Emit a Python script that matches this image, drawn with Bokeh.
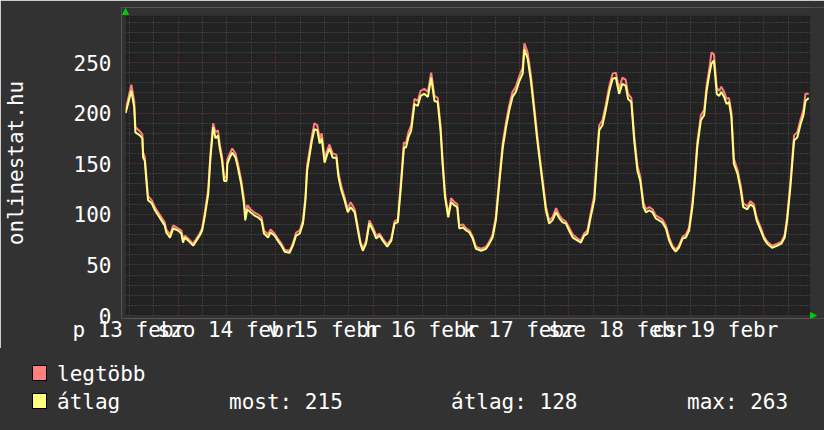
from bokeh.plotting import figure
from bokeh.layouts import column
from bokeh.models import (FixedTicker, Arrow, NormalHead, Range1d, AllLabels,
                          BoxAnnotation, Div, Grid)
from bokeh.embed import file_html
from bokeh.resources import INLINE

# ---- data (hours since 13 Feb 00:00) ----
hours = [11.1, 12.5, 13.2, 13.5, 14.6, 15.2, 15.4, 15.8, 16.2, 16.6, 17.5, 18.3, 19.1, 19.9, 20.7, 21.1, 22.0, 22.8,
         24.0, 24.8, 25.2, 25.6, 26.5, 27.7, 28.5, 29.3, 29.9, 30.5, 31.4, 31.9, 32.6, 33.2, 33.8, 34.2, 34.8, 35.3, 35.9, 36.1,
         36.7, 37.3, 38.1, 38.7, 39.5, 40.2, 40.5, 41.0, 41.8, 42.7, 43.6, 44.5, 45.1, 46.1, 46.7, 47.7,
         48.5, 49.4, 50.2, 51.4, 52.2, 53.0, 53.9, 54.7, 55.3, 55.7, 56.3, 56.9, 57.5, 58.2, 58.8, 59.3, 60.0, 60.7, 61.2, 62.0,
         62.9, 63.4, 64.1, 64.9, 65.7, 66.4, 67.4, 68.2, 68.8, 69.4, 70.2, 71.0, 71.9,
         72.7, 73.5, 74.3, 75.4, 76.4, 77.2, 78.0, 78.7, 79.5, 80.0, 80.6, 81.3, 82.1, 82.9, 83.6, 84.5, 85.4, 86.2, 87.0, 87.8,
         88.5, 89.0, 89.6, 90.4, 91.1, 91.9, 92.6, 93.1, 94.0, 94.8, 95.6,
         96.4, 97.2, 98.5, 99.7, 100.5, 101.3, 102.1, 103.0, 103.8, 104.6, 105.4, 106.2, 107.0, 107.9, 108.7, 109.1, 109.9, 110.7,
         111.5, 112.2, 112.8, 113.6, 114.4, 115.2, 116.0, 116.9, 117.7, 118.5, 119.3,
         120.1, 121.0, 122.2, 123.0, 123.8, 124.6, 125.4, 126.3, 126.9, 127.5, 128.3, 129.1, 130.0, 130.8, 131.6, 132.4, 133.2,
         134.0, 134.6, 135.4, 136.1, 136.9, 137.6, 138.4, 139.0, 139.8, 140.6, 141.4, 142.2, 143.0, 143.9,
         144.7, 145.5, 146.3, 147.1, 148.0, 148.8, 149.6, 150.4, 151.0, 151.6, 152.5, 153.3, 153.9, 154.6, 155.1, 155.7, 156.4,
         157.0, 157.5, 158.2, 158.8, 159.4, 160.0, 160.6, 161.5, 162.3, 162.9, 163.9, 164.7, 165.5, 166.2, 167.2, 168.0, 168.8,
         170.0, 171.3, 172.3, 173.1, 173.7, 174.5, 175.4, 176.2, 177.0, 177.7, 178.2, 179.0]

atlag = [200, 222, 206, 181, 178, 175, 156, 153, 133, 114, 111, 104, 99, 94, 89, 82, 77, 86,
         84, 81, 72, 77, 74, 69, 74, 79, 84, 97, 120, 153, 186, 175, 178, 166, 153, 133, 133, 150,
         156, 161, 156, 146, 130, 110, 94, 105, 102, 99, 97, 94, 81, 77, 82, 79,
         74, 69, 63, 62, 69, 79, 81, 91, 114, 143, 158, 173, 184, 183, 170, 175, 151, 160, 165, 156,
         156, 137, 124, 114, 102, 107, 102, 84, 71, 64, 71, 91, 84,
         76, 79, 74, 68, 74, 91, 92, 124, 166, 166, 176, 183, 209, 207, 217, 219, 216, 235, 212, 211,
         183, 150, 117, 97, 112, 109, 107, 86, 87, 84, 82,
         76, 66, 64, 66, 71, 77, 94, 133, 166, 186, 203, 216, 221, 232, 239, 263, 254, 232,
         203, 176, 156, 130, 104, 91, 94, 102, 96, 92, 91,
         84, 77, 74, 72, 79, 81, 97, 114, 150, 183, 188, 203, 222, 234, 235, 219, 229,
         227, 214, 211, 173, 143, 133, 107, 102, 104, 102, 96, 94, 92, 86,
         74, 67, 63, 67, 76, 77, 84, 107, 133, 166, 193, 198, 222, 239, 249, 252, 219,
         217, 221, 216, 209, 211, 196, 150, 140, 124, 107, 105, 110, 107, 94, 84, 76, 71,
         67, 69, 71, 77, 94, 127, 173, 176, 189, 198, 212, 215]

legtobb = [203, 228, 212, 186, 182, 179, 161, 157, 137, 118, 114, 107, 102, 97, 92, 85, 80, 89,
           86, 84, 75, 79, 76, 71, 76, 81, 86, 100, 125, 158, 190, 181, 183, 170, 157, 137, 136, 154,
           160, 165, 160, 150, 134, 115, 98, 109, 105, 102, 100, 97, 84, 80, 85, 81,
           76, 71, 65, 64, 71, 82, 84, 94, 118, 148, 163, 178, 190, 188, 175, 180, 156, 164, 169, 160,
           159, 141, 128, 117, 105, 112, 105, 87, 73, 66, 74, 94, 87,
           79, 81, 76, 70, 76, 93, 95, 129, 171, 170, 181, 188, 214, 212, 222, 224, 221, 240, 217, 215,
           188, 155, 121, 100, 116, 112, 110, 89, 90, 86, 84,
           78, 68, 66, 68, 73, 80, 98, 138, 171, 191, 208, 221, 226, 237, 245, 269, 260, 238,
           208, 181, 160, 134, 108, 94, 97, 106, 99, 95, 93,
           87, 80, 76, 74, 81, 84, 101, 119, 155, 188, 193, 208, 227, 239, 240, 224, 235,
           233, 219, 215, 178, 148, 137, 111, 105, 107, 105, 99, 97, 95, 89,
           77, 69, 65, 69, 78, 80, 87, 111, 138, 171, 198, 203, 227, 245, 260, 258, 225,
           222, 226, 221, 214, 215, 201, 155, 144, 128, 111, 108, 113, 110, 97, 87, 78, 73,
           69, 71, 73, 80, 98, 132, 178, 181, 194, 203, 219, 219]

assert len(hours) == len(atlag) == len(legtobb)

day_labels = ["p 13 febr", "szo 14 febr", "v 15 febr", "h 16 febr", "k 17 febr", "sze 18 febr", "cs 19 febr"]
label_hours = [12, 36, 60, 84, 108, 132, 156]
midnight_hours = [24, 48, 72, 96, 120, 144, 168]
y_ticks = [0, 50, 100, 150, 200, 250]
y_title = "onlinestat.hu"
series_names = ["legtöbb", "átlag"]
stat_texts = ["most: 215", "átlag: 128", "max: 263"]

# ---- style ----
BACK = "#323232"
CANVAS = "#222222"
MGRID = "#7c3a3a"
GRID = "#575757"
FONT = "DejaVu Sans Mono"
FS = "21px"
RED = "#ff7f7f"
YEL = "#ffff7f"
GREEN = "#00cc00"

# time window / value window of the drawing canvas
T0, T1 = 11.06, 179.45
V0, V1 = 0, 296.5
# frame slightly larger than canvas so that the axis arrows fit inside it
XR = Range1d(10.08, 182.88)
YR = Range1d(-2.96, 304.35)

p = figure(width=824, height=348, x_range=XR, y_range=YR,
           output_backend="svg", toolbar_location=None,
           min_border_left=120, min_border_right=0, min_border_top=7, min_border_bottom=30,
           background_fill_color=BACK, border_fill_color=BACK, outline_line_color=None)

p.add_layout(BoxAnnotation(left=T0, right=T1, bottom=V0, top=V1, fill_color=CANVAS,
                           fill_alpha=1, line_color=None, level="image"))

six_hourly = [h for h in range(6, 180, 6) if h % 24 != 0]
ten_steps = [v for v in range(10, 300, 10) if v % 50 != 0]

p.xgrid.ticker = FixedTicker(ticks=midnight_hours, minor_ticks=six_hourly)
p.ygrid.ticker = FixedTicker(ticks=y_ticks, minor_ticks=ten_steps)
p.xgrid.bounds = (T0, T1)
p.ygrid.bounds = (V0, V1)
if "cross_bounds" in Grid.properties():
    p.xgrid.cross_bounds = (V0, V1)
    p.ygrid.cross_bounds = (T0, T1)
for g in (p.xgrid, p.ygrid):
    g.grid_line_color = MGRID
    g.grid_line_dash = "1 2"
    g.grid_line_width = 1
    g.minor_grid_line_color = GRID
    g.minor_grid_line_dash = "1 2"

p.xaxis.ticker = FixedTicker(ticks=label_hours)
p.xaxis.major_label_overrides = {h: t for h, t in zip(label_hours, day_labels)}
p.xaxis.major_label_policy = AllLabels()
p.yaxis.ticker = FixedTicker(ticks=y_ticks)

for ax in (p.xaxis[0], p.yaxis[0]):
    ax.major_label_text_font = FONT
    ax.major_label_text_font_size = FS
    ax.major_label_text_color = "#ffffff"
    ax.axis_line_color = None
    ax.minor_tick_line_color = None
    ax.major_tick_line_color = None
    ax.major_tick_out = 0
    ax.major_tick_in = 0

p.xaxis.major_label_standoff = -1
p.yaxis.major_label_standoff = 10
p.yaxis.axis_label = y_title
p.yaxis.axis_label_text_font = FONT
p.yaxis.axis_label_text_font_size = FS
p.yaxis.axis_label_text_font_style = "normal"
p.yaxis.axis_label_text_color = "#ffffff"
p.yaxis.axis_label_standoff = 43

# ---- series ----
p.line(hours, legtobb, line_color=RED, line_width=2)
p.line(hours, atlag, line_color=YEL, line_width=2)

# ---- mask the strips between frame edge and canvas (keeps grid inside canvas) ----
for kw in (dict(right=T0), dict(left=T1), dict(bottom=V1), dict(top=V0)):
    p.add_layout(BoxAnnotation(fill_color=BACK, fill_alpha=1, line_color=None, **kw))

# ---- axis arrows ----
p.add_layout(Arrow(end=NormalHead(size=6, fill_color=GREEN, line_color=GREEN),
                   x_start=T0, y_start=V1, x_end=T0, y_end=303.3, line_alpha=0))
p.add_layout(Arrow(end=NormalHead(size=6, fill_color=GREEN, line_color=GREEN),
                   x_start=T1, y_start=0, x_end=180.9, y_end=0, line_alpha=0))

# ---- legend strip ----
def sw(top, col):
    return ('<span style="position:absolute;left:32px;top:%dpx;width:15px;height:16px;'
            'box-sizing:border-box;border:1px solid #000;background:%s;"></span>' % (top, col))

def tx(left, top, t):
    return ('<span style="position:absolute;left:%dpx;top:%.1fpx;white-space:pre;'
            'line-height:24px;">%s</span>' % (left, top, t))

legend_html = (
    '<div style="position:relative;width:824px;height:82px;margin:0;padding:0;'
    'font-family:\'DejaVu Sans Mono\';font-size:21px;color:#ffffff;background:%s;">' % BACK
    + sw(17, RED) + sw(45, YEL)
    + tx(57, 13.7, series_names[0]) + tx(57, 41.7, series_names[1])
    + tx(229, 41.7, stat_texts[0]) + tx(451, 41.7, stat_texts[1]) + tx(687, 41.7, stat_texts[2])
    + '</div>')
legend = Div(text=legend_html, width=824, height=82, margin=(0, 0, 0, 0))

layout = column(p, legend, spacing=0)
html = file_html(layout, INLINE)
html = html.replace("<body>", '<body style="margin:0;background-color:%s;">' % BACK, 1)
open("out.html", "w").write(html)
